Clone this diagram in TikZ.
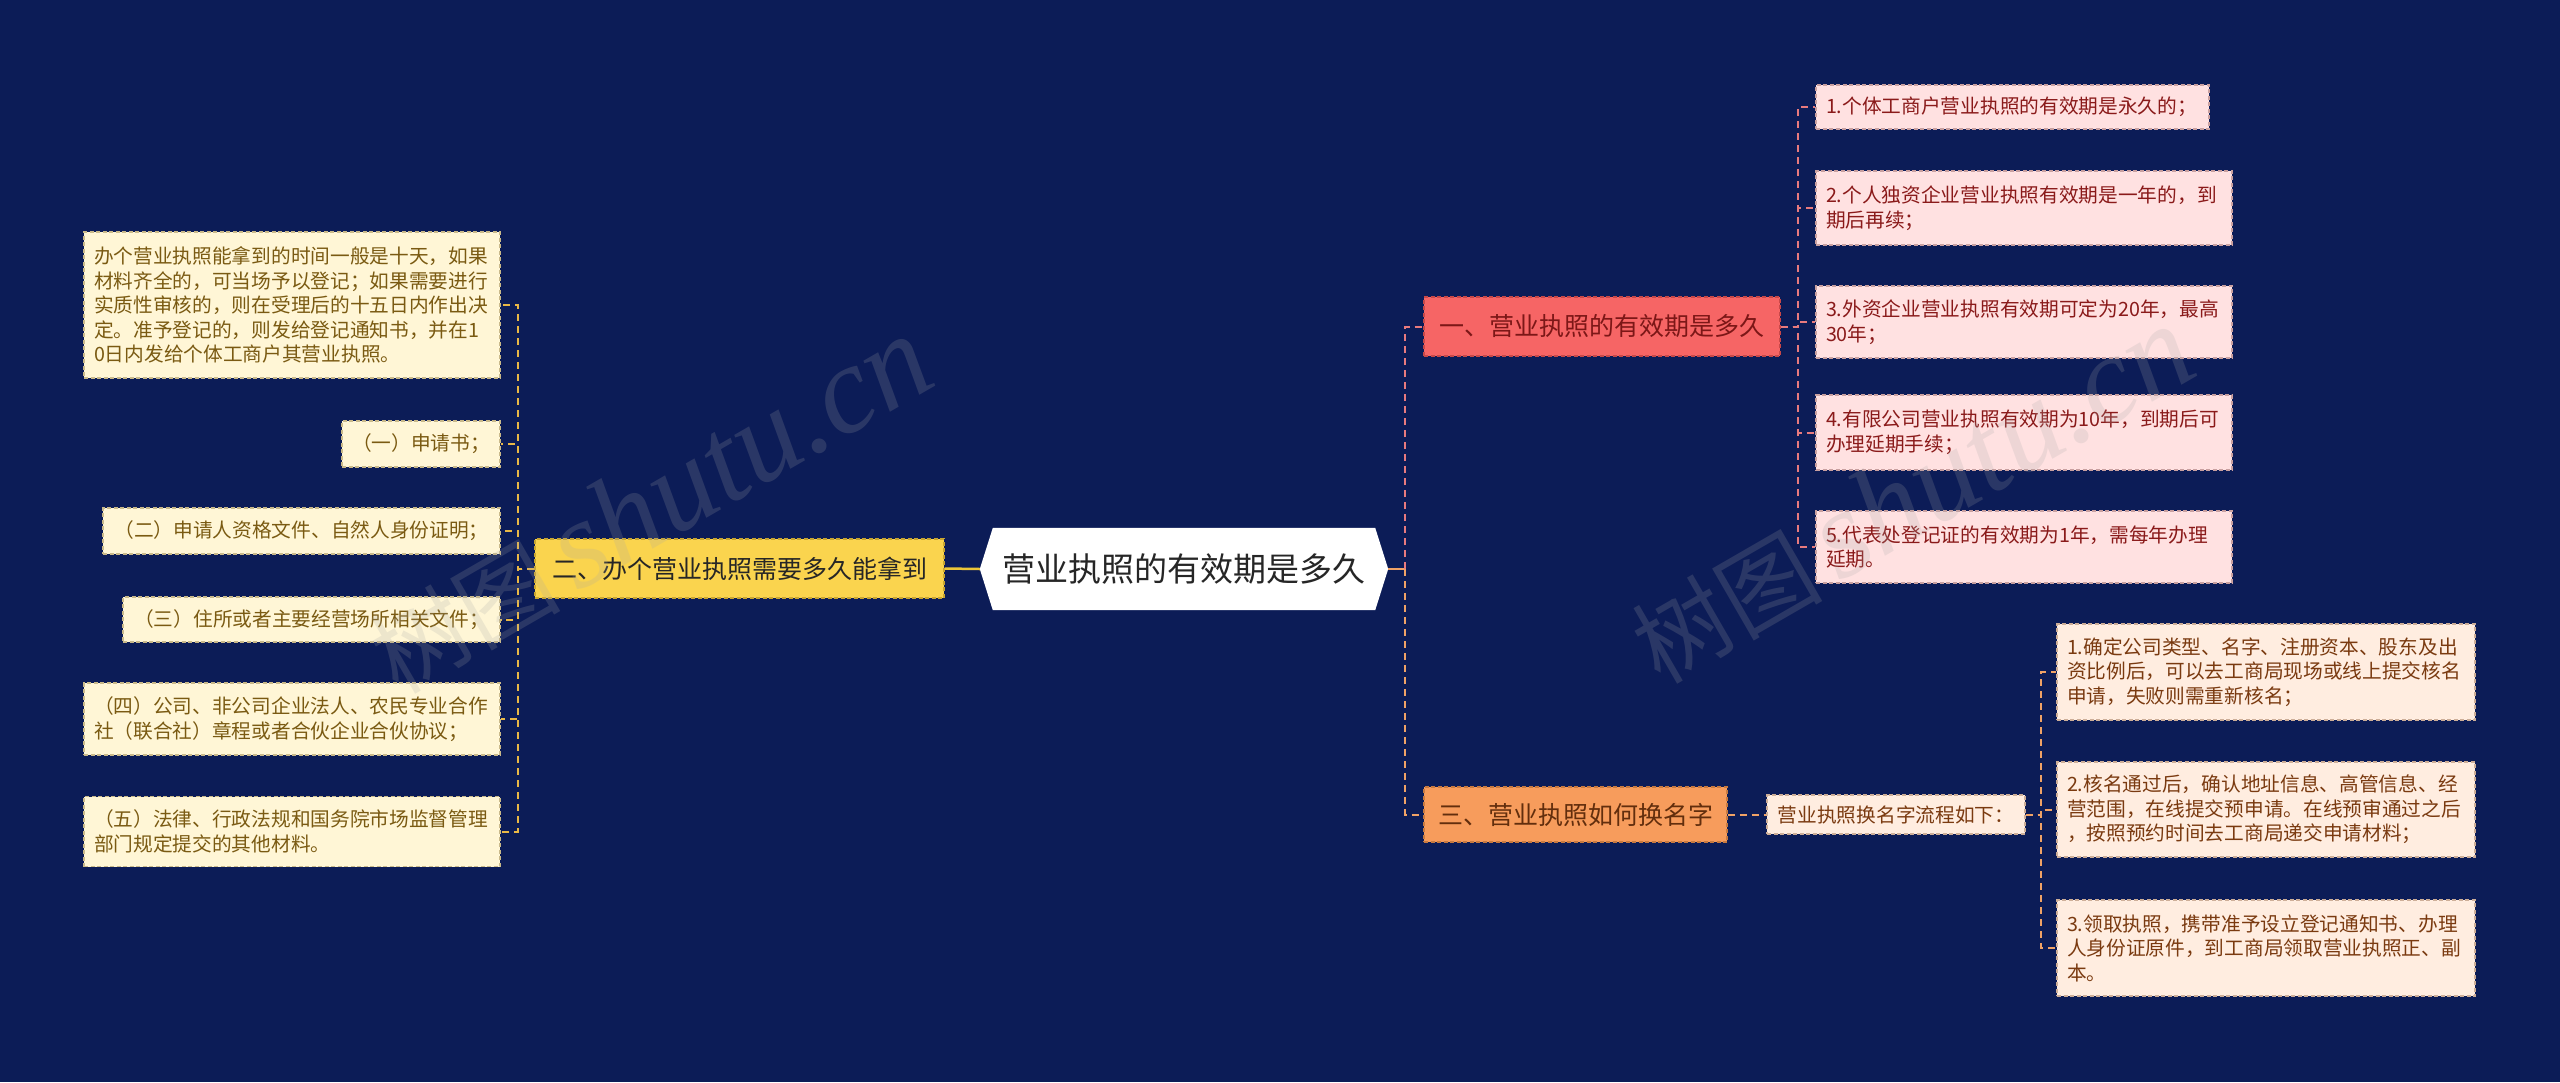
\documentclass[tikz,border=0pt]{standalone}
\usepackage{fontspec}
\setmainfont{Noto Sans CJK SC}
\newfontfamily\wmlatin{Liberation Serif}
\usetikzlibrary{backgrounds}
\definecolor{bgc}{HTML}{0C1C57}
\definecolor{creamfill}{HTML}{FFF6D6}
\definecolor{creamtext}{HTML}{7A5A12}
\definecolor{creamedge}{HTML}{C9B98A}
\definecolor{pinkfill}{HTML}{FFE1E1}
\definecolor{pinktext}{HTML}{8A1A1A}
\definecolor{pinkedge}{HTML}{C9A0A0}
\definecolor{peachfill}{HTML}{FFEDE0}
\definecolor{peachtext}{HTML}{7A3A10}
\definecolor{peachedge}{HTML}{CDAE98}
\definecolor{yellowfill}{HTML}{FAD44E}
\definecolor{yellowedge}{HTML}{C8A530}
\definecolor{redfill}{HTML}{F66565}
\definecolor{rededge}{HTML}{C84848}
\definecolor{orangefill}{HTML}{F79C5C}
\definecolor{orangeedge}{HTML}{C87A40}
\definecolor{goldline}{HTML}{E9B846}
\definecolor{pinkline}{HTML}{E87A7E}
\definecolor{orangeline}{HTML}{F0A266}
\tikzset{
  box/.style={rectangle, inner xsep=10pt, inner ysep=0pt, line width=1.2pt, dash pattern=on 4pt off 2.5pt},
  leafC/.style={box, fill=creamfill, draw=creamedge, text=creamtext, font=\fontsize{19.7}{24.5}\selectfont},
  leafP/.style={box, fill=pinkfill, draw=pinkedge, text=pinktext, font=\fontsize{19.7}{24.5}\selectfont},
  leafO/.style={box, fill=peachfill, draw=peachedge, text=peachtext, font=\fontsize{19.7}{24.5}\selectfont},
  branch/.style={box, font=\fontsize{25}{30}\selectfont},
  centerbox/.style={rectangle, inner sep=0pt, minimum width=408pt, minimum height=82pt, font=\fontsize{33}{40}\selectfont, text=black!85},
  conn/.style={line width=2pt, dash pattern=on 7pt off 5pt},
  wm/.style={rotate=30, text=gray!70, opacity=0.2, inner sep=0pt}
}
\begin{document}
\begin{tikzpicture}[x=1pt,y=-1pt]
\useasboundingbox (0,0) rectangle (2560,1082);
\begin{scope}[on background layer]
  \fill[bgc] (0,0) rectangle (2560,1082);
\end{scope}

% center
\node[centerbox] (C) at (1184,569) {营业执照的有效期是多久};
\begin{scope}[on background layer]
  \fill[white] (C.west) -- ([xshift=13pt]C.north west) -- ([xshift=-13pt]C.north east)
    -- (C.east) -- ([xshift=-13pt]C.south east) -- ([xshift=13pt]C.south west) -- cycle;
\end{scope}

% branches
\node[branch, fill=yellowfill, draw=yellowedge, text=black!85, minimum width=409pt, minimum height=59pt] (L) at (739.5,568.5) {二、办个营业执照需要多久能拿到};
\node[branch, fill=redfill, draw=rededge, text=pinktext!90!black, minimum width=356pt, minimum height=59pt] (B1) at (1602,326.5) {一、营业执照的有效期是多久};
\node[branch, fill=orangefill, draw=orangeedge, text=peachtext!80!black, minimum width=303pt, minimum height=55pt] (B3) at (1575.5,814.5) {三、营业执照如何换名字};
\node[leafO, font=\fontsize{19.7}{24}\selectfont, minimum width=258pt, minimum height=39pt] (S) at (1896,814.5) {营业执照换名字流程如下：};

% left leaves
\node[leafC, text width=396pt, align=left, minimum height=146pt] (L0) at (292,305) {办个营业执照能拿到的时间一般是十天，如果\\材料齐全的，可当场予以登记；如果需要进行\\实质性审核的，则在受理后的十五日内作出决\\定。准予登记的，则发给登记通知书，并在1\\0日内发给个体工商户其营业执照。};
\node[leafC, align=center, minimum width=158pt, minimum height=46pt] (L1) at (421,444) {（一）申请书；};
\node[leafC, align=center, minimum width=397pt, minimum height=46pt] (L2) at (301.5,531) {（二）申请人资格文件、自然人身份证明；};
\node[leafC, align=center, minimum width=377pt, minimum height=45pt] (L3) at (311.5,619.5) {（三）住所或者主要经营场所相关文件；};
\node[leafC, text width=396pt, align=left, minimum height=72pt] (L4) at (292,719) {（四）公司、非公司企业法人、农民专业合作\\社（联合社）章程或者合伙企业合伙协议；};
\node[leafC, text width=396pt, align=left, minimum height=70pt] (L5) at (292,831.5) {（五）法律、行政法规和国务院市场监督管理\\部门规定提交的其他材料。};

% right top leaves
\node[leafP, text width=373pt, align=left, minimum height=44pt] (T1) at (2012.5,107) {1.个体工商户营业执照的有效期是永久的；};
\node[leafP, text width=396pt, align=left, minimum height=74pt] (T2) at (2024,208) {2.个人独资企业营业执照有效期是一年的，到\\期后再续；};
\node[leafP, text width=396pt, align=left, minimum height=72pt] (T3) at (2024,322) {3.外资企业营业执照有效期可定为20年，最高\\30年；};
\node[leafP, text width=396pt, align=left, minimum height=75pt] (T4) at (2024,432.5) {4.有限公司营业执照有效期为10年，到期后可\\办理延期手续；};
\node[leafP, text width=396pt, align=left, minimum height=72pt] (T5) at (2024,547) {5.代表处登记证的有效期为1年，需每年办理\\延期。};

% right bottom leaves
\node[leafO, text width=398pt, align=left, minimum height=96pt] (R1) at (2266,672) {1.确定公司类型、名字、注册资本、股东及出\\资比例后，可以去工商局现场或线上提交核名\\申请，失败则需重新核名；};
\node[leafO, text width=398pt, align=left, minimum height=95pt] (R2) at (2266,809.5) {2.核名通过后，确认地址信息、高管信息、经\\营范围，在线提交预申请。在线预审通过之后\\，按照预约时间去工商局递交申请材料；};
\node[leafO, text width=398pt, align=left, minimum height=96pt] (R3) at (2266,948) {3.领取执照，携带准予设立登记通知书、办理\\人身份证原件，到工商局领取营业执照正、副\\本。};

% junctions
\coordinate (jL) at (518,568.5);
\coordinate (jC) at (1405,569);
\coordinate (j1) at (1798,326.5);
\coordinate (j3) at (2041,814.5);

% connectors
\draw[line width=2.5pt, color=goldline!80!yellow] (C.west) -- (L.east);
\foreach \n in {L0,L1,L2,L3,L4,L5}
  \draw[conn, goldline] (L.west) -- (jL) |- (\n.east);
\draw[line width=2.5pt, color=orangeline] (C.east) -- (jC);
\draw[conn, pinkline] (jC) |- (B1.west);
\draw[conn, orangeline] (jC) |- (B3.west);
\foreach \n in {T1,T2,T3,T4,T5}
  \draw[conn, pinkline] (B1.east) -- (j1) |- (\n.west);
\draw[conn, orangeline] (B3.east) -- (S.west);
\foreach \n in {R1,R2,R3}
  \draw[conn, orangeline] (S.east) -- (j3) |- (\n.west);

% watermarks
\node[wm] (wm1) at (650,505) {\fontsize{95}{95}\selectfont 树图\,{\wmlatin\itshape\fontsize{125}{125}\selectfont shutu.cn}};
\node[wm] (wm2) at (1912,495) {\fontsize{95}{95}\selectfont 树图\,{\wmlatin\itshape\fontsize{125}{125}\selectfont shutu.cn}};
\end{tikzpicture}
\end{document}
